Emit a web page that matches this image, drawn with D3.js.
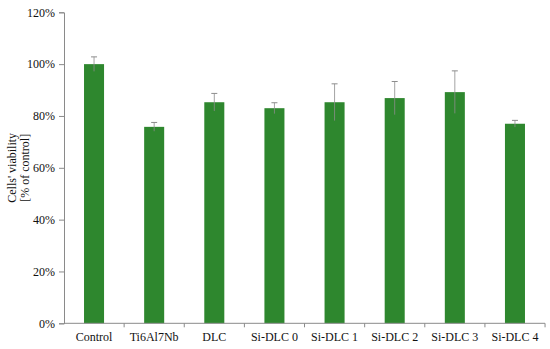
<!DOCTYPE html>
<html><head><meta charset="utf-8">
<script src="https://cdn.jsdelivr.net/npm/d3@7"></script>
<style>body{margin:0;background:#fff}svg{display:block}</style>
</head><body>
<svg id="c" width="550" height="349"></svg>
<script>
const categories = ["Control","Ti6Al7Nb","DLC","Si-DLC 0","Si-DLC 1","Si-DLC 2","Si-DLC 3","Si-DLC 4"];
const values = [100, 75.8, 85.3, 83.0, 85.3, 86.9, 89.2, 77.0];
const errors = [2.8, 1.7, 3.4, 2.1, 7.1, 6.4, 8.2, 1.3];
const yTicks = [0, 20, 40, 60, 80, 100, 120];

const svg = d3.select("#c");
const m = {l: 64, r: 5, t: 12.3, b: 25.7};
const W = 550, H = 349;
const x = d3.scaleBand().domain(categories).range([m.l, W - m.r]).paddingInner(0.667).paddingOuter(0.333);
const y = d3.scaleLinear().domain([0, 120]).range([H - m.b, m.t]);
const font = "'Liberation Serif','Times New Roman',serif";

// bars
svg.append("g").selectAll("rect").data(values).join("rect")
  .attr("x", (d,i) => x(categories[i]))
  .attr("y", d => y(d))
  .attr("width", x.bandwidth())
  .attr("height", d => y(0) - y(d))
  .attr("fill", "#2e872e");

// error bars
const eg = svg.append("g").attr("stroke", "#8c8c8c").attr("stroke-width", 1);
values.forEach((v,i) => {
  const cx = x(categories[i]) + x.bandwidth()/2;
  eg.append("line").attr("x1", cx).attr("x2", cx).attr("y1", y(v - errors[i])).attr("y2", y(v + errors[i])).attr("stroke-opacity", 0.8);
  eg.append("line").attr("x1", cx - 3).attr("x2", cx + 3).attr("y1", y(v + errors[i])).attr("y2", y(v + errors[i]));
});

// y axis
const ya = svg.append("g").attr("transform", `translate(${m.l},0)`)
  .call(d3.axisLeft(y).tickValues(yTicks).tickFormat(d => d + "%").tickSizeOuter(0).tickSize(5).tickPadding(4));
ya.select(".domain").attr("stroke", "#8a8a8a");
ya.selectAll(".tick line").attr("stroke", "#8a8a8a");
ya.selectAll("text").attr("font-family", font).attr("font-size", 12).attr("fill", "#111");

// x axis with ticks at band boundaries
const xa = svg.append("g").attr("transform", `translate(0,${H - m.b})`);
xa.append("line").attr("x1", m.l).attr("x2", W - m.r).attr("stroke", "#8a8a8a");
const step = x.step();
const bounds = d3.range(categories.length + 1).map(i => m.l + i * step);
xa.selectAll("line.tk").data(bounds.slice(1)).join("line").attr("class","tk")
  .attr("x1", d => d).attr("x2", d => d).attr("y1", 0).attr("y2", 4).attr("stroke", "#8a8a8a");
xa.selectAll("text").data(categories).join("text")
  .attr("x", d => x(d) + x.bandwidth()/2).attr("y", 18)
  .attr("text-anchor", "middle").attr("font-family", font).attr("font-size", 12).attr("fill", "#111")
  .text(d => d);

// y title
const t = svg.append("text").attr("transform", `translate(0,${y(60)}) rotate(-90)`)
  .attr("text-anchor", "middle").attr("font-family", font).attr("font-size", 12).attr("fill", "#111");
t.append("tspan").attr("x", 0).attr("y", 16).text("Cells' viability");
t.append("tspan").attr("x", 0).attr("y", 29).text("[% of control]");
</script>
</body></html>
